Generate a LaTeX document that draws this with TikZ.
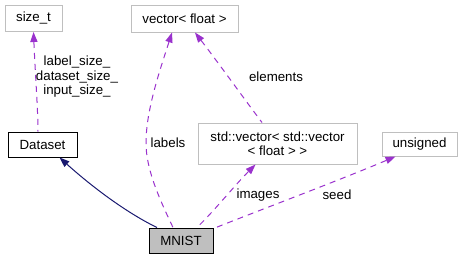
\documentclass[tikz,border=0pt]{standalone}
\usepackage{fontspec}
\setmainfont{Liberation Sans}
\usetikzlibrary{arrows.meta}
\definecolor{boxgray}{HTML}{BFBFBF}
\definecolor{usecolor}{HTML}{9A32CD}
\definecolor{inhcolor}{HTML}{191970}
\begin{document}
\begin{tikzpicture}[x=1pt,y=-1pt,
  every node/.style={font=\fontsize{13.3}{14.5}\selectfont, inner sep=0pt, align=center},
  extbox/.style={draw=boxgray, line width=1pt, fill=white, minimum width=#1},
  classbox/.style={draw=black, line width=1pt, fill=white},
  usage/.style={draw=usecolor, line width=1pt, dash pattern=on 6pt off 5pt,
    {Triangle[length=10pt,width=7.5pt,fill=usecolor,line width=0pt]}-},
  inherit/.style={draw=inhcolor, line width=1pt,
    {Triangle[length=10pt,width=7.5pt,fill=inhcolor,line width=0pt]}-},
  elabel/.style={fill=none}]
\useasboundingbox (0,0) rectangle (462,260);
% class boxes
\node[extbox=57pt, minimum height=26pt] (sizet) at (33.5,18.5) {size\_t};
\node[extbox=107pt, minimum height=27pt] (vecf) at (184.5,18.5) {vector< float >};
\node[classbox, minimum width=69pt, minimum height=25pt] (dataset) at (42.5,144.5) {Dataset};
\node[draw=black, line width=1pt, fill=boxgray, minimum width=64pt, minimum height=25pt] (mnist) at (181,240.5) {MNIST};
\node[extbox=159pt, minimum height=41pt] (stdvec) at (277.5,143.5) {std::vector< std::vector\\< float > >};
\node[extbox=75pt, minimum height=24pt] (unsig) at (419.5,144) {unsigned};
% inheritance
\draw[inherit] ([xshift=17pt]dataset.south) .. controls (90,185) and (125,212) .. ([xshift=-24pt]mnist.north);
% usage relations
\draw[usage] (sizet.south) .. controls (35,70) and (38,110) .. ([xshift=-4.5pt]dataset.north);
\draw[usage] ([xshift=-12.5pt]vecf.south) .. controls (160,70) and (146,110) .. (146,143)
  .. controls (146,170) and (160,200) .. ([xshift=-8pt]mnist.north);
\draw[usage] ([xshift=10.5pt]vecf.south) .. controls (220,65) and (245,100) .. ([xshift=-15.5pt]stdvec.north);
\draw[usage] ([xshift=-22pt]stdvec.south) .. controls (235,185) and (215,210) .. ([xshift=16pt]mnist.north);
\draw[usage] ([xshift=-24pt]unsig.south) .. controls (340,180) and (260,210) .. ([yshift=-1pt]mnist.north east);
% edge labels
\node[elabel] (lsize) at (77,77) {label\_size\_\\dataset\_size\_\\input\_size\_};
\node[elabel] (llabels) at (168,143) {labels};
\node[elabel] (lelem) at (276,77) {elements};
\node[elabel] (limages) at (258,195) {images};
\node[elabel] (lseed) at (337,195) {seed};
\end{tikzpicture}
\end{document}
